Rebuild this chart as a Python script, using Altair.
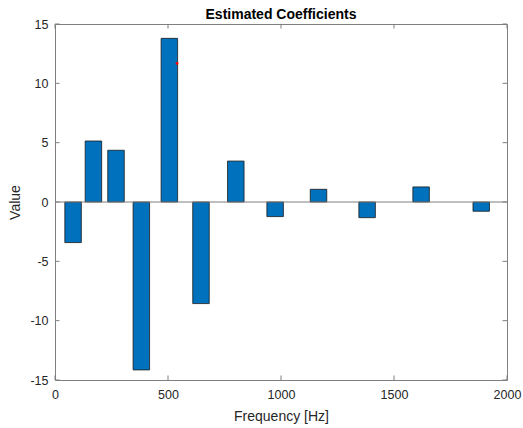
import altair as alt
import pandas as pd

# Data
freqs = [80, 170, 270, 382, 506, 646, 800, 974, 1166, 1381, 1620, 1886]
values = [-3.42, 5.14, 4.36, -14.15, 13.79, -8.56, 3.45, -1.23, 1.07, -1.32, 1.27, -0.78]
marker_freq = [540]
marker_value = [11.68]
x_ticks = [0, 500, 1000, 1500, 2000]
y_ticks = [-15, -10, -5, 0, 5, 10, 15]

BAR_HALF = 36.5  # half of bar width in Hz
W, H = 452, 356
TICK = 4.5
AX = "#262626"
BOX = "#7f7f7f"

bars_df = pd.DataFrame({"freq": freqs, "value": values})
mark_df = pd.DataFrame({"freq": marker_freq, "value": marker_value})
xt_df = pd.DataFrame({"t": x_ticks})
yt_df = pd.DataFrame({"t": y_ticks})

xs = alt.Scale(domain=[0, 2000], nice=False, zero=False)
ys = alt.Scale(domain=[-15, 15], nice=False, zero=False)

x_axis = alt.Axis(values=x_ticks, tickSize=0, domain=False, grid=False, labelPadding=8,
                  labelFontSize=12.5, labelColor=AX, title="Frequency [Hz]",
                  labelExpr="datum.value + ''",
                  titleFontSize=14, titleFontWeight="normal", titleColor=AX,
                  titleBaseline="middle", titleY=36, labelFlush=False)
y_axis = alt.Axis(values=y_ticks, tickSize=0, domain=False, grid=False, labelPadding=7,
                  labelFontSize=12.5, labelColor=AX, title="Value",
                  labelExpr="datum.value + ''",
                  titleFontSize=14, titleFontWeight="normal", titleColor=AX,
                  titleX=-40, titleBaseline="middle", labelFlush=False)

bars = alt.Chart(bars_df).transform_calculate(
    x0=f"datum.freq - {BAR_HALF}", x1=f"datum.freq + {BAR_HALF}"
).mark_bar(color="#0072BD", stroke="#1a1a1a", strokeWidth=0.8).encode(
    x=alt.X("x0:Q", scale=xs, axis=x_axis),
    x2="x1:Q",
    y=alt.Y("value:Q", scale=ys, axis=y_axis),
    y2=alt.datum(0),
)

zero = alt.Chart(pd.DataFrame({"z": [0]})).mark_rule(color=BOX, strokeWidth=1).encode(
    y=alt.Y("z:Q", scale=ys, axis=y_axis),
    x=alt.value(0), x2=alt.value(W),
)

marker = alt.Chart(mark_df).mark_point(filled=True, color="#ff0000", size=8, opacity=1).encode(
    x=alt.X("freq:Q", scale=xs, axis=x_axis),
    y=alt.Y("value:Q", scale=ys, axis=y_axis),
)

xt_bottom = alt.Chart(xt_df).mark_rule(color=BOX, strokeWidth=1).encode(
    x=alt.X("t:Q", scale=xs, axis=x_axis), y=alt.value(H), y2=alt.value(H - TICK))
xt_top = alt.Chart(xt_df).mark_rule(color=BOX, strokeWidth=1).encode(
    x=alt.X("t:Q", scale=xs, axis=x_axis), y=alt.value(0), y2=alt.value(TICK))
yt_left = alt.Chart(yt_df).mark_rule(color=BOX, strokeWidth=1).encode(
    y=alt.Y("t:Q", scale=ys, axis=y_axis), x=alt.value(0), x2=alt.value(TICK))
yt_right = alt.Chart(yt_df).mark_rule(color=BOX, strokeWidth=1).encode(
    y=alt.Y("t:Q", scale=ys, axis=y_axis), x=alt.value(W), x2=alt.value(W - TICK))

chart = alt.layer(bars, zero, marker, xt_bottom, xt_top, yt_left, yt_right).properties(
    width=W, height=H,
    title=alt.TitleParams("Estimated Coefficients", fontSize=14, fontWeight="bold",
                          color="#000000", offset=5, dy=9, anchor="middle"),
    autosize=alt.AutoSizeParams(type="none"),
    padding={"left": 55, "top": 24, "right": 16, "bottom": 48},
).configure(font="Liberation Sans").configure_view(stroke=BOX, strokeWidth=1)

chart.save("out.html", embed_options={"renderer": "svg", "actions": False})
